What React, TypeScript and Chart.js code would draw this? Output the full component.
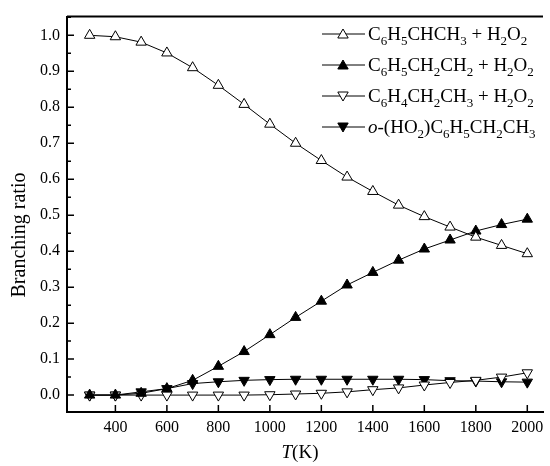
import React, { useEffect, useRef } from "react";
import { Chart, registerables } from "chart.js";
import { drawPoint } from "chart.js/helpers";

Chart.register(...registerables);

const temps = [300, 400, 500, 600, 700, 800, 900, 1000, 1100, 1200, 1300, 1400, 1500, 1600, 1700, 1800, 1900, 2000];
const seriesA = [1.0, 0.996, 0.981, 0.951, 0.91, 0.861, 0.808, 0.753, 0.70, 0.652, 0.606, 0.566, 0.528, 0.496, 0.467, 0.439, 0.416, 0.393];
const seriesB = [0, 0, 0.005, 0.018, 0.041, 0.08, 0.121, 0.168, 0.216, 0.261, 0.306, 0.341, 0.375, 0.406, 0.431, 0.456, 0.474, 0.489];
const seriesC = [0, 0, 0, 0, 0, 0, 0, 0.001, 0.003, 0.005, 0.009, 0.015, 0.02, 0.028, 0.035, 0.041, 0.05, 0.062];
const seriesD = [0, 0, 0.009, 0.018, 0.032, 0.037, 0.041, 0.043, 0.044, 0.044, 0.044, 0.044, 0.044, 0.043, 0.04, 0.039, 0.037, 0.036];

const xTicks = [400, 600, 800, 1000, 1200, 1400, 1600, 1800, 2000];
const yTicks = [0, 0.1, 0.2, 0.3, 0.4, 0.5, 0.6, 0.7, 0.8, 0.9, 1.0];
const yMinorTicks = [0.05, 0.15, 0.25, 0.35, 0.45, 0.55, 0.65, 0.75, 0.85, 0.95, 1.05];

// legend label segments: [text, mode] mode: 0 normal, 1 subscript, 2 italic
type Seg = [string, number];
const legendLabels: Seg[][] = [
  [["C", 0], ["6", 1], ["H", 0], ["5", 1], ["CHCH", 0], ["3", 1], [" + H", 0], ["2", 1], ["O", 0], ["2", 1]],
  [["C", 0], ["6", 1], ["H", 0], ["5", 1], ["CH", 0], ["2", 1], ["CH", 0], ["2", 1], [" + H", 0], ["2", 1], ["O", 0], ["2", 1]],
  [["C", 0], ["6", 1], ["H", 0], ["4", 1], ["CH", 0], ["2", 1], ["CH", 0], ["3", 1], [" + H", 0], ["2", 1], ["O", 0], ["2", 1]],
  [["o", 2], ["-(HO", 0], ["2", 1], [")C", 0], ["6", 1], ["H", 0], ["5", 1], ["CH", 0], ["2", 1], ["CH", 0], ["3", 1]],
];

const FONT = "'Liberation Serif', 'Times New Roman', serif";

const decorPlugin = {
  id: "decor",
  afterDraw(chart: any) {
    const ctx = chart.ctx;
    const area = chart.chartArea;
    const xs = chart.scales.x;
    const ys = chart.scales.y;
    ctx.save();
    ctx.strokeStyle = "#000";
    ctx.lineWidth = 1.5;
    // inward ticks
    ctx.beginPath();
    xTicks.forEach((v) => {
      const px = xs.getPixelForValue(v);
      ctx.moveTo(px, area.bottom);
      ctx.lineTo(px, area.bottom - 7);
    });
    yTicks.forEach((v) => {
      const py = ys.getPixelForValue(v);
      ctx.moveTo(area.left, py);
      ctx.lineTo(area.left + 7, py);
    });
    yMinorTicks.forEach((v) => {
      const py = ys.getPixelForValue(v);
      if (py < area.top || py > area.bottom) return;
      ctx.moveTo(area.left, py);
      ctx.lineTo(area.left + 4, py);
    });
    ctx.stroke();
    // top border
    ctx.lineWidth = 2;
    ctx.beginPath();
    ctx.moveTo(area.left, area.top);
    ctx.lineTo(area.right, area.top);
    ctx.stroke();

    // legend
    const rowY = [34, 65, 96, 127];
    const lx0 = 322, lx1 = 365, mx = 343, tx = 368;
    chart.data.datasets.forEach((ds: any, i: number) => {
      const y = rowY[i];
      ctx.strokeStyle = "#000";
      ctx.lineWidth = 1;
      ctx.beginPath();
      ctx.moveTo(lx0, y);
      ctx.lineTo(lx1, y);
      ctx.stroke();
      ctx.fillStyle = ds.pointBackgroundColor;
      ctx.strokeStyle = "#000";
      ctx.lineWidth = 1;
      drawPoint(ctx, { pointStyle: "triangle", radius: 6, rotation: ds.pointRotation, borderWidth: 1 }, mx, y + (ds.pointRotation ? -1 : 1));
      // text
      let x = tx;
      ctx.fillStyle = "#000";
      ctx.textBaseline = "alphabetic";
      const base = y + 6;
      legendLabels[i].forEach(([t, mode]) => {
        if (mode === 1) {
          ctx.font = `13px ${FONT}`;
          ctx.fillText(t, x, base + 5);
        } else if (mode === 2) {
          ctx.font = `italic 19px ${FONT}`;
          ctx.fillText(t, x, base);
        } else {
          ctx.font = `19px ${FONT}`;
          ctx.fillText(t, x, base);
        }
        x += ctx.measureText(t).width;
      });
    });

    // axis titles
    ctx.fillStyle = "#000";
    ctx.font = `italic 19px ${FONT}`;
    const tW = ctx.measureText("T").width;
    ctx.font = `19px ${FONT}`;
    const kW = ctx.measureText("(K)").width;
    const cx = 300;
    const ty = 458;
    ctx.textAlign = "left";
    ctx.font = `italic 19px ${FONT}`;
    ctx.fillText("T", cx - (tW + kW) / 2, ty);
    ctx.font = `19px ${FONT}`;
    ctx.fillText("(K)", cx - (tW + kW) / 2 + tW, ty);

    ctx.translate(25, 235);
    ctx.rotate(-Math.PI / 2);
    ctx.textAlign = "center";
    ctx.font = `20px ${FONT}`;
    ctx.fillText("Branching ratio", 0, 0);
    ctx.restore();
  },
};

function makeDataset(values: number[], filled: boolean, down: boolean) {
  return {
    data: temps.map((t, i) => ({ x: t, y: values[i] })),
    borderColor: "#000",
    borderWidth: 1,
    pointStyle: "triangle",
    pointRotation: down ? 180 : 0,
    pointRadius: 6,
    pointBorderWidth: 1,
    pointBorderColor: "#000",
    pointBackgroundColor: filled ? "#000" : "#fff",
    tension: 0,
    fill: false,
  };
}

export default function App() {
  const ref = useRef<HTMLCanvasElement>(null);
  useEffect(() => {
    document.body.style.margin = "0";
    const chart = new Chart(ref.current!, {
      type: "line",
      data: {
        datasets: [
          makeDataset(seriesA, false, false),
          makeDataset(seriesB, true, false),
          makeDataset(seriesC, false, true),
          makeDataset(seriesD, true, true),
        ] as any,
      },
      options: {
        animation: false,
        responsive: false,
        devicePixelRatio: 1,
        layout: { padding: { top: 14, right: 1, left: 0, bottom: 0 } },
        plugins: { legend: { display: false }, tooltip: { enabled: false } },
        scales: {
          x: {
            type: "linear",
            min: 212,
            max: 2061,
            afterBuildTicks: (s: any) => {
              s.ticks = xTicks.map((v) => ({ value: v }));
            },
            afterFit: (s: any) => {
              s.height = 54;
            },
            grid: { display: true, drawOnChartArea: false, drawTicks: false, color: "rgba(0,0,0,0)" },
            border: { display: true, color: "#000", width: 2 },
            ticks: {
              color: "#000",
              padding: 6,
              maxRotation: 0,
              autoSkip: false,
              font: { family: FONT, size: 16 },
              callback: (v: any) => String(v),
            },
          },
          y: {
            type: "linear",
            min: -0.047,
            max: 1.052,
            afterBuildTicks: (s: any) => {
              s.ticks = yTicks.map((v) => ({ value: v }));
            },
            afterFit: (s: any) => {
              s.width = 67;
            },
            grid: { display: true, drawOnChartArea: false, drawTicks: false, color: "rgba(0,0,0,0)" },
            border: { display: true, color: "#000", width: 2 },
            ticks: {
              color: "#000",
              padding: 7,
              autoSkip: false,
              font: { family: FONT, size: 16 },
              callback: (v: any) => Number(v).toFixed(1),
            },
          },
        },
      },
      plugins: [decorPlugin],
    });
    return () => chart.destroy();
  }, []);
  return <canvas ref={ref} width={550} height={466} style={{ display: "block" }} />;
}
